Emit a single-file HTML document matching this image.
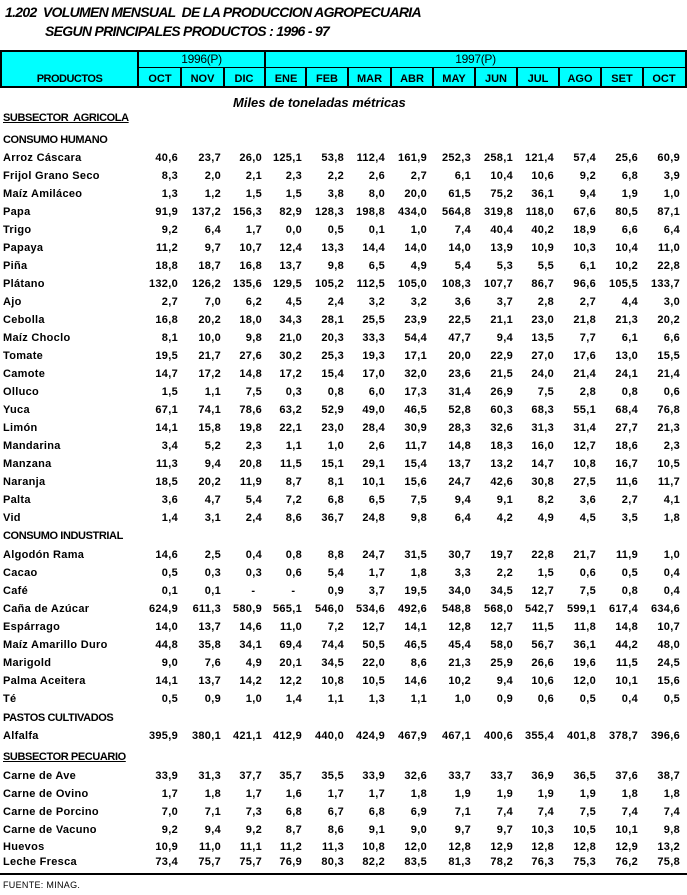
<!DOCTYPE html>
<html><head><meta charset="utf-8">
<style>
body{margin:0;width:687px;height:895px;position:relative;background:#fff;font-family:"Liberation Sans",Arial,sans-serif;color:#000;overflow:hidden}
.a{position:absolute}
.t{position:absolute;font-weight:bold;font-style:italic;font-size:14px;letter-spacing:-0.7px;white-space:pre;line-height:18px}
.bk{position:absolute;background:#000}
.m{position:absolute;top:70px;height:18px;line-height:18px;text-align:center;font-size:11px;font-weight:bold}
.y{position:absolute;top:51px;height:17px;line-height:17px;text-align:center;font-size:12px;letter-spacing:-0.3px}
.h{position:absolute;left:3px;font-size:11px;font-weight:bold;letter-spacing:-0.4px;line-height:18px;white-space:pre}
.u{text-decoration:underline}
.r{position:absolute;left:0;width:687px;height:18px;line-height:18px;font-size:11px;font-weight:bold}
.r span{position:absolute;top:0;width:50px;text-align:right;letter-spacing:0.3px;white-space:pre}
.r span:nth-child(1){left:3px;width:auto;text-align:left}
.r span:nth-child(2){left:128px}
.r span:nth-child(3){left:171px}
.r span:nth-child(4){left:212px}
.r span:nth-child(5){left:252px}
.r span:nth-child(6){left:294px}
.r span:nth-child(7){left:335px}
.r span:nth-child(8){left:377px}
.r span:nth-child(9){left:421px}
.r span:nth-child(10){left:463px}
.r span:nth-child(11){left:504px}
.r span:nth-child(12){left:546px}
.r span:nth-child(13){left:588px}
.r span:nth-child(14){left:630px}
</style></head><body>

<div class="t" style="left:5px;top:3px">1.202  VOLUMEN MENSUAL  DE LA PRODUCCION AGROPECUARIA</div>
<div class="t" style="left:45px;top:22px">SEGUN PRINCIPALES PRODUCTOS : 1996 - 97</div>

<!-- header box -->
<div class="a" style="left:0;top:50px;width:687px;height:38px;background:#00FFFF;border:2px solid #000;box-sizing:border-box"></div>
<div class="bk" style="left:137px;top:50px;width:2px;height:38px"></div>
<div class="bk" style="left:264px;top:50px;width:2px;height:38px"></div>
<div class="bk" style="left:139px;top:67px;width:548px;height:1px"></div>
<div class="bk" style="left:180px;top:67px;width:2px;height:21px"></div>
<div class="bk" style="left:223px;top:67px;width:2px;height:21px"></div>
<div class="bk" style="left:305px;top:67px;width:2px;height:21px"></div>
<div class="bk" style="left:347px;top:67px;width:2px;height:21px"></div>
<div class="bk" style="left:390px;top:67px;width:2px;height:21px"></div>
<div class="bk" style="left:432px;top:67px;width:2px;height:21px"></div>
<div class="bk" style="left:474px;top:67px;width:2px;height:21px"></div>
<div class="bk" style="left:516px;top:67px;width:2px;height:21px"></div>
<div class="bk" style="left:558px;top:67px;width:2px;height:21px"></div>
<div class="bk" style="left:600px;top:67px;width:2px;height:21px"></div>
<div class="bk" style="left:642px;top:67px;width:2px;height:21px"></div>

<div class="y" style="left:139px;width:125px">1996(P)</div>
<div class="y" style="left:266px;width:419px">1997(P)</div>
<div class="m" style="left:2px;width:135px;letter-spacing:-0.5px">PRODUCTOS</div>
<div class="m" style="left:139px;width:42px">OCT</div>
<div class="m" style="left:181px;width:43px">NOV</div>
<div class="m" style="left:224px;width:40px">DIC</div>
<div class="m" style="left:266px;width:40px">ENE</div>
<div class="m" style="left:306px;width:42px">FEB</div>
<div class="m" style="left:348px;width:43px">MAR</div>
<div class="m" style="left:391px;width:42px">ABR</div>
<div class="m" style="left:433px;width:42px">MAY</div>
<div class="m" style="left:475px;width:42px">JUN</div>
<div class="m" style="left:517px;width:42px">JUL</div>
<div class="m" style="left:559px;width:42px">AGO</div>
<div class="m" style="left:601px;width:42px">SET</div>
<div class="m" style="left:643px;width:42px">OCT</div>

<div class="a" style="left:233px;top:94px;line-height:18px;font-size:13px;font-weight:bold;font-style:italic">Miles de toneladas métricas</div>

<div class="h u" style="top:109px">SUBSECTOR  AGRICOLA</div>
<div class="h" style="top:131px">CONSUMO HUMANO</div>

<div class="r" style="top:149px"><span>Arroz Cáscara</span><span>40,6</span><span>23,7</span><span>26,0</span><span>125,1</span><span>53,8</span><span>112,4</span><span>161,9</span><span>252,3</span><span>258,1</span><span>121,4</span><span>57,4</span><span>25,6</span><span>60,9</span></div>
<div class="r" style="top:167px"><span>Frijol Grano Seco</span><span>8,3</span><span>2,0</span><span>2,1</span><span>2,3</span><span>2,2</span><span>2,6</span><span>2,7</span><span>6,1</span><span>10,4</span><span>10,6</span><span>9,2</span><span>6,8</span><span>3,9</span></div>
<div class="r" style="top:185px"><span>Maíz Amiláceo</span><span>1,3</span><span>1,2</span><span>1,5</span><span>1,5</span><span>3,8</span><span>8,0</span><span>20,0</span><span>61,5</span><span>75,2</span><span>36,1</span><span>9,4</span><span>1,9</span><span>1,0</span></div>
<div class="r" style="top:203px"><span>Papa</span><span>91,9</span><span>137,2</span><span>156,3</span><span>82,9</span><span>128,3</span><span>198,8</span><span>434,0</span><span>564,8</span><span>319,8</span><span>118,0</span><span>67,6</span><span>80,5</span><span>87,1</span></div>
<div class="r" style="top:221px"><span>Trigo</span><span>9,2</span><span>6,4</span><span>1,7</span><span>0,0</span><span>0,5</span><span>0,1</span><span>1,0</span><span>7,4</span><span>40,4</span><span>40,2</span><span>18,9</span><span>6,6</span><span>6,4</span></div>
<div class="r" style="top:239px"><span>Papaya</span><span>11,2</span><span>9,7</span><span>10,7</span><span>12,4</span><span>13,3</span><span>14,4</span><span>14,0</span><span>14,0</span><span>13,9</span><span>10,9</span><span>10,3</span><span>10,4</span><span>11,0</span></div>
<div class="r" style="top:257px"><span>Piña</span><span>18,8</span><span>18,7</span><span>16,8</span><span>13,7</span><span>9,8</span><span>6,5</span><span>4,9</span><span>5,4</span><span>5,3</span><span>5,5</span><span>6,1</span><span>10,2</span><span>22,8</span></div>
<div class="r" style="top:275px"><span>Plátano</span><span>132,0</span><span>126,2</span><span>135,6</span><span>129,5</span><span>105,2</span><span>112,5</span><span>105,0</span><span>108,3</span><span>107,7</span><span>86,7</span><span>96,6</span><span>105,5</span><span>133,7</span></div>
<div class="r" style="top:293px"><span>Ajo</span><span>2,7</span><span>7,0</span><span>6,2</span><span>4,5</span><span>2,4</span><span>3,2</span><span>3,2</span><span>3,6</span><span>3,7</span><span>2,8</span><span>2,7</span><span>4,4</span><span>3,0</span></div>
<div class="r" style="top:311px"><span>Cebolla</span><span>16,8</span><span>20,2</span><span>18,0</span><span>34,3</span><span>28,1</span><span>25,5</span><span>23,9</span><span>22,5</span><span>21,1</span><span>23,0</span><span>21,8</span><span>21,3</span><span>20,2</span></div>
<div class="r" style="top:329px"><span>Maíz Choclo</span><span>8,1</span><span>10,0</span><span>9,8</span><span>21,0</span><span>20,3</span><span>33,3</span><span>54,4</span><span>47,7</span><span>9,4</span><span>13,5</span><span>7,7</span><span>6,1</span><span>6,6</span></div>
<div class="r" style="top:347px"><span>Tomate</span><span>19,5</span><span>21,7</span><span>27,6</span><span>30,2</span><span>25,3</span><span>19,3</span><span>17,1</span><span>20,0</span><span>22,9</span><span>27,0</span><span>17,6</span><span>13,0</span><span>15,5</span></div>
<div class="r" style="top:365px"><span>Camote</span><span>14,7</span><span>17,2</span><span>14,8</span><span>17,2</span><span>15,4</span><span>17,0</span><span>32,0</span><span>23,6</span><span>21,5</span><span>24,0</span><span>21,4</span><span>24,1</span><span>21,4</span></div>
<div class="r" style="top:383px"><span>Olluco</span><span>1,5</span><span>1,1</span><span>7,5</span><span>0,3</span><span>0,8</span><span>6,0</span><span>17,3</span><span>31,4</span><span>26,9</span><span>7,5</span><span>2,8</span><span>0,8</span><span>0,6</span></div>
<div class="r" style="top:401px"><span>Yuca</span><span>67,1</span><span>74,1</span><span>78,6</span><span>63,2</span><span>52,9</span><span>49,0</span><span>46,5</span><span>52,8</span><span>60,3</span><span>68,3</span><span>55,1</span><span>68,4</span><span>76,8</span></div>
<div class="r" style="top:419px"><span>Limón</span><span>14,1</span><span>15,8</span><span>19,8</span><span>22,1</span><span>23,0</span><span>28,4</span><span>30,9</span><span>28,3</span><span>32,6</span><span>31,3</span><span>31,4</span><span>27,7</span><span>21,3</span></div>
<div class="r" style="top:437px"><span>Mandarina</span><span>3,4</span><span>5,2</span><span>2,3</span><span>1,1</span><span>1,0</span><span>2,6</span><span>11,7</span><span>14,8</span><span>18,3</span><span>16,0</span><span>12,7</span><span>18,6</span><span>2,3</span></div>
<div class="r" style="top:455px"><span>Manzana</span><span>11,3</span><span>9,4</span><span>20,8</span><span>11,5</span><span>15,1</span><span>29,1</span><span>15,4</span><span>13,7</span><span>13,2</span><span>14,7</span><span>10,8</span><span>16,7</span><span>10,5</span></div>
<div class="r" style="top:473px"><span>Naranja</span><span>18,5</span><span>20,2</span><span>11,9</span><span>8,7</span><span>8,1</span><span>10,1</span><span>15,6</span><span>24,7</span><span>42,6</span><span>30,8</span><span>27,5</span><span>11,6</span><span>11,7</span></div>
<div class="r" style="top:491px"><span>Palta</span><span>3,6</span><span>4,7</span><span>5,4</span><span>7,2</span><span>6,8</span><span>6,5</span><span>7,5</span><span>9,4</span><span>9,1</span><span>8,2</span><span>3,6</span><span>2,7</span><span>4,1</span></div>
<div class="r" style="top:509px"><span>Vid</span><span>1,4</span><span>3,1</span><span>2,4</span><span>8,6</span><span>36,7</span><span>24,8</span><span>9,8</span><span>6,4</span><span>4,2</span><span>4,9</span><span>4,5</span><span>3,5</span><span>1,8</span></div>

<div class="h" style="top:527px">CONSUMO INDUSTRIAL</div>

<div class="r" style="top:546px"><span>Algodón Rama</span><span>14,6</span><span>2,5</span><span>0,4</span><span>0,8</span><span>8,8</span><span>24,7</span><span>31,5</span><span>30,7</span><span>19,7</span><span>22,8</span><span>21,7</span><span>11,9</span><span>1,0</span></div>
<div class="r" style="top:564px"><span>Cacao</span><span>0,5</span><span>0,3</span><span>0,3</span><span>0,6</span><span>5,4</span><span>1,7</span><span>1,8</span><span>3,3</span><span>2,2</span><span>1,5</span><span>0,6</span><span>0,5</span><span>0,4</span></div>
<div class="r" style="top:582px"><span>Café</span><span>0,1</span><span>0,1</span><span>-  </span><span>-  </span><span>0,9</span><span>3,7</span><span>19,5</span><span>34,0</span><span>34,5</span><span>12,7</span><span>7,5</span><span>0,8</span><span>0,4</span></div>
<div class="r" style="top:600px"><span>Caña de Azúcar</span><span>624,9</span><span>611,3</span><span>580,9</span><span>565,1</span><span>546,0</span><span>534,6</span><span>492,6</span><span>548,8</span><span>568,0</span><span>542,7</span><span>599,1</span><span>617,4</span><span>634,6</span></div>
<div class="r" style="top:618px"><span>Espárrago</span><span>14,0</span><span>13,7</span><span>14,6</span><span>11,0</span><span>7,2</span><span>12,7</span><span>14,1</span><span>12,8</span><span>12,7</span><span>11,5</span><span>11,8</span><span>14,8</span><span>10,7</span></div>
<div class="r" style="top:636px"><span>Maíz Amarillo Duro</span><span>44,8</span><span>35,8</span><span>34,1</span><span>69,4</span><span>74,4</span><span>50,5</span><span>46,5</span><span>45,4</span><span>58,0</span><span>56,7</span><span>36,1</span><span>44,2</span><span>48,0</span></div>
<div class="r" style="top:654px"><span>Marigold</span><span>9,0</span><span>7,6</span><span>4,9</span><span>20,1</span><span>34,5</span><span>22,0</span><span>8,6</span><span>21,3</span><span>25,9</span><span>26,6</span><span>19,6</span><span>11,5</span><span>24,5</span></div>
<div class="r" style="top:672px"><span>Palma Aceitera</span><span>14,1</span><span>13,7</span><span>14,2</span><span>12,2</span><span>10,8</span><span>10,5</span><span>14,6</span><span>10,2</span><span>9,4</span><span>10,6</span><span>12,0</span><span>10,1</span><span>15,6</span></div>
<div class="r" style="top:690px"><span>Té</span><span>0,5</span><span>0,9</span><span>1,0</span><span>1,4</span><span>1,1</span><span>1,3</span><span>1,1</span><span>1,0</span><span>0,9</span><span>0,6</span><span>0,5</span><span>0,4</span><span>0,5</span></div>

<div class="h" style="top:709px">PASTOS CULTIVADOS</div>
<div class="r" style="top:727px"><span>Alfalfa</span><span>395,9</span><span>380,1</span><span>421,1</span><span>412,9</span><span>440,0</span><span>424,9</span><span>467,9</span><span>467,1</span><span>400,6</span><span>355,4</span><span>401,8</span><span>378,7</span><span>396,6</span></div>

<div class="h u" style="top:748px">SUBSECTOR PECUARIO</div>
<div class="r" style="top:767px"><span>Carne de Ave</span><span>33,9</span><span>31,3</span><span>37,7</span><span>35,7</span><span>35,5</span><span>33,9</span><span>32,6</span><span>33,7</span><span>33,7</span><span>36,9</span><span>36,5</span><span>37,6</span><span>38,7</span></div>
<div class="r" style="top:785px"><span>Carne de Ovino</span><span>1,7</span><span>1,8</span><span>1,7</span><span>1,6</span><span>1,7</span><span>1,7</span><span>1,8</span><span>1,9</span><span>1,9</span><span>1,9</span><span>1,9</span><span>1,8</span><span>1,8</span></div>
<div class="r" style="top:803px"><span>Carne de Porcino</span><span>7,0</span><span>7,1</span><span>7,3</span><span>6,8</span><span>6,7</span><span>6,8</span><span>6,9</span><span>7,1</span><span>7,4</span><span>7,4</span><span>7,5</span><span>7,4</span><span>7,4</span></div>
<div class="r" style="top:821px"><span>Carne de Vacuno</span><span>9,2</span><span>9,4</span><span>9,2</span><span>8,7</span><span>8,6</span><span>9,1</span><span>9,0</span><span>9,7</span><span>9,7</span><span>10,3</span><span>10,5</span><span>10,1</span><span>9,8</span></div>
<div class="r" style="top:838px"><span>Huevos</span><span>10,9</span><span>11,0</span><span>11,1</span><span>11,2</span><span>11,3</span><span>10,8</span><span>12,0</span><span>12,8</span><span>12,9</span><span>12,8</span><span>12,8</span><span>12,9</span><span>13,2</span></div>
<div class="r" style="top:853px"><span>Leche Fresca</span><span>73,4</span><span>75,7</span><span>75,7</span><span>76,9</span><span>80,3</span><span>82,2</span><span>83,5</span><span>81,3</span><span>78,2</span><span>76,3</span><span>75,3</span><span>76,2</span><span>75,8</span></div>

<div class="bk" style="left:0;top:873px;width:687px;height:2px"></div>
<div class="a" style="left:3px;top:879px;font-size:9px;line-height:13px;letter-spacing:0.3px">FUENTE: MINAG.</div>

</body></html>
